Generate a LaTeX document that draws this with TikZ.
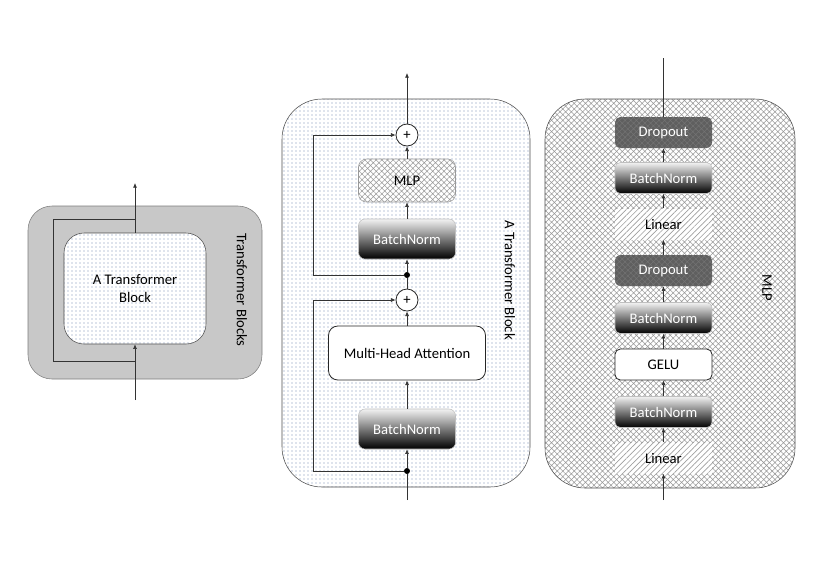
\documentclass[tikz,border=0pt]{standalone}
\usepackage{fontspec}
\setmainfont{Carlito}
\usetikzlibrary{arrows.meta,patterns.meta}

\definecolor{dotblue}{RGB}{120,140,180}
\definecolor{panelgray}{RGB}{200,200,200}
\definecolor{edgegray}{RGB}{125,125,125}
\definecolor{dropgray}{RGB}{95,95,95}

\tikzset{
  conn/.style={draw=black!80, line width=0.5pt},
  arr/.style={conn, -{Latex[length=3.5pt,width=3pt]}},
  dotfill/.style={preaction={fill=white}, pattern={Dots[distance=3pt,radius=0.45pt]}, pattern color=dotblue},
  xhatch/.style={preaction={fill=white}, pattern={Hatch[angle=45,distance=3pt,line width=0.4pt]}, pattern color=gray!80},
  layer/.style={rectangle, rounded corners=4pt, minimum width=72.75pt, minimum height=23.25pt, inner sep=0pt},
  bnbox/.style={layer, top color=gray!10, bottom color=black, text=white, draw=gray!50},
  dropbox/.style={layer, preaction={fill=dropgray}, pattern={Hatch[angle=45,distance=3pt,line width=0.4pt]}, pattern color=black!55, text=white},
  linbox/.style={layer, rounded corners=0pt, preaction={fill=white}, pattern={Lines[angle=45,distance=3pt,line width=0.5pt]}, pattern color=gray!75},
  whitebox/.style={layer, fill=white, draw=black!85, line width=0.6pt},
  addop/.style={circle, draw=black!85, fill=white, minimum size=16.5pt, inner sep=0pt, line width=0.6pt},
  junction/.style={circle, fill=black, minimum size=4.5pt, inner sep=0pt},
  sidelabel/.style={rotate=-90}
}

\begin{document}
\begin{tikzpicture}[x=0.75pt,y=-0.75pt,font=\fontsize{11}{13}\selectfont]
\useasboundingbox (0,0) rectangle (830,587);

\node[draw=edgegray, fill=panelgray, rounded corners=18pt, minimum width=175.5pt, minimum height=129.75pt] (stack) at (145,292.5) {};
\node[dotfill, draw=black!70, rounded corners=15pt, minimum width=106.5pt, minimum height=83.25pt, align=center] (tblock) at (135,288.5) {A Transformer\\Block};
\coordinate (stackin) at (135,400);
\coordinate (stackout) at (135,183);
\coordinate (stacktop) at (135,219);
\coordinate (stackbot) at (135,361);
\draw[arr] (stackin) -- (tblock);
\draw[arr] (tblock) -- (stackout);
\draw[conn] (stackbot) -- ++(-82,0) |- (stacktop);
\node[sidelabel] (stacklbl) at (242,290) {Transformer Blocks};

\node[dotfill, draw=black!70, rounded corners=30pt, minimum width=186pt, minimum height=291pt] (tbpanel) at (406,293) {};
\node[addop] (add1) at (407,135) {+};
\node[layer, xhatch, draw=gray!80, rounded corners=6pt, minimum height=32.25pt] (mlpref) at (407,180.5) {MLP};
\node[bnbox, rounded corners=5pt, minimum height=30pt] (bn1) at (407,239) {BatchNorm};
\node[junction] (j1) at (407,275) {};
\node[addop] (add2) at (407,300) {+};
\node[whitebox, rounded corners=7pt, minimum width=117.75pt, minimum height=40.5pt] (mha) at (407,353) {Multi-Head Attention};
\node[bnbox, rounded corners=5pt, minimum height=30pt] (bn2) at (407,429) {BatchNorm};
\node[junction] (j2) at (407,471) {};
\coordinate (tbin) at (407,500);
\coordinate (tbout) at (407,73);
\draw[conn] (tbin) -- (j2);
\draw[arr] (j2) -- (bn2);
\draw[arr] (bn2) -- (mha);
\draw[arr] (mha) -- (add2);
\draw[conn] (add2) -- (j1);
\draw[arr] (j1) -- (bn1);
\draw[arr] (bn1) -- (mlpref);
\draw[arr] (mlpref) -- (add1);
\draw[arr] (add1) -- (tbout);
\draw[arr] (j2) -- ++(-94,0) |- (add2);
\draw[arr] (j1) -- ++(-94,0) |- (add1);
\node[sidelabel] (tblbl) at (510,280) {A Transformer Block};

\node[xhatch, draw=black!70, rounded corners=30pt, minimum width=187.5pt, minimum height=291.75pt] (mlppanel) at (670,293.5) {};
\node[dropbox] (drop1) at (663.5,132.5) {Dropout};
\node[bnbox] (bn3) at (663.5,178) {BatchNorm};
\node[linbox] (lin1) at (663.5,224) {Linear};
\node[dropbox] (drop2) at (663.5,270.5) {Dropout};
\node[bnbox] (bn4) at (663.5,318) {BatchNorm};
\node[whitebox] (gelu) at (663.5,364.5) {GELU};
\node[bnbox] (bn5) at (663.5,412) {BatchNorm};
\node[linbox] (lin2) at (663.5,458) {Linear};
\coordinate (mlpin) at (663.5,500);
\coordinate (mlpout) at (663.5,58);
\draw[arr] (mlpin) -- (lin2);
\draw[arr] (lin2) -- (bn5);
\draw[arr] (bn5) -- (gelu);
\draw[arr] (gelu) -- (bn4);
\draw[arr] (bn4) -- (drop2);
\draw[arr] (drop2) -- (lin1);
\draw[arr] (lin1) -- (bn3);
\draw[arr] (bn3) -- (drop1);
\draw[conn] (drop1) -- (mlpout);
\node[sidelabel] (mlplbl) at (767,288) {MLP};
\end{tikzpicture}
\end{document}
